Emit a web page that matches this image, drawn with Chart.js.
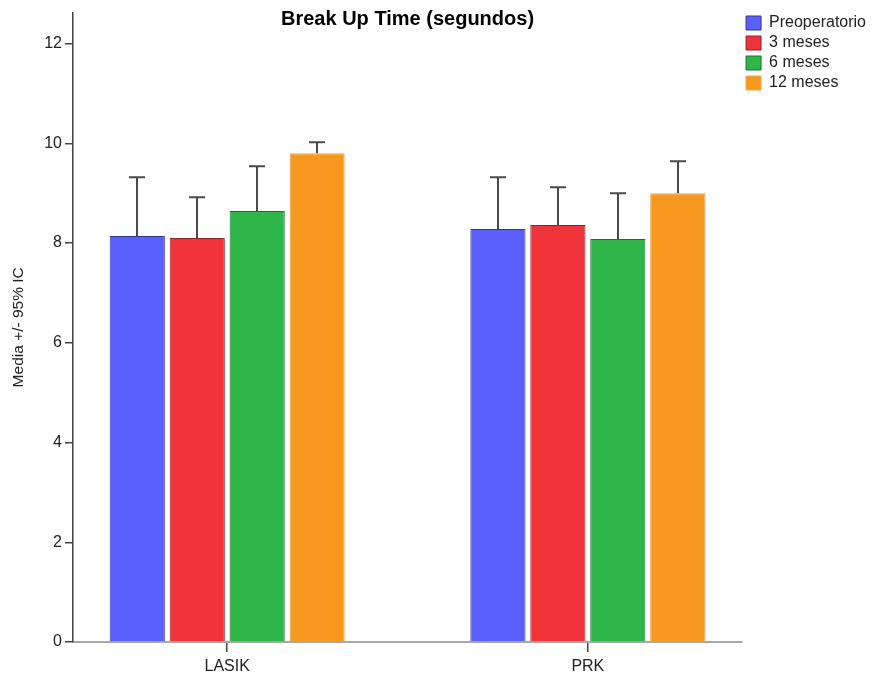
<!DOCTYPE html>
<html>
<head>
<meta charset="utf-8">
<script src="https://cdn.jsdelivr.net/npm/chart.js@4/dist/chart.umd.min.js"></script>
<style>
  html, body { margin: 0; padding: 0; background: #ffffff; }
  #wrap { width: 876px; height: 677px; }
</style>
</head>
<body>
<div id="wrap"><canvas id="c" width="876" height="677"></canvas></div>
<script>
// ---- data ----
const categories = ['LASIK', 'PRK'];
const seriesNames = ['Preoperatorio', '3 meses', '6 meses', '12 meses'];
const meanPre  = [8.14, 8.28];
const mean3m   = [8.10, 8.36];
const mean6m   = [8.64, 8.08];
const mean12m  = [9.80, 9.00];
const ciUpPre  = [9.32, 9.32];
const ciUp3m   = [8.92, 9.12];
const ciUp6m   = [9.54, 9.00];
const ciUp12m  = [10.02, 9.64];
const yTicks   = [0, 2, 4, 6, 8, 10, 12];

const means = [meanPre, mean3m, mean6m, mean12m];
const ciUpper = [ciUpPre, ciUp3m, ciUp6m, ciUp12m];
const fills = ['#5b5ffb', '#f0323b', '#2eb648', '#f8991f'];
const borders = ['#34368f', '#8f2529', '#1d6f30', '#f3a54a'];

Chart.defaults.font.family = "'Liberation Sans', Arial, sans-serif";
Chart.defaults.color = '#222';

const errorBars = {
  id: 'errorBars',
  afterDatasetsDraw(chart) {
    const ctx = chart.ctx;
    const yS = chart.scales.y;
    ctx.save();
    ctx.strokeStyle = '#4a4a4a';
    ctx.lineWidth = 2;
    chart.data.datasets.forEach((ds, i) => {
      const meta = chart.getDatasetMeta(i);
      meta.data.forEach((el, j) => {
        const top = yS.getPixelForValue(ciUpper[i][j]);
        const x = Math.round(el.x);
        ctx.beginPath();
        ctx.moveTo(x, el.y);
        ctx.lineTo(x, top);
        ctx.moveTo(x - 8, top);
        ctx.lineTo(x + 8, top);
        ctx.stroke();
      });
    });
    ctx.restore();
  }
};

new Chart(document.getElementById('c'), {
  type: 'bar',
  data: {
    datasets: means.map((arr, i) => ({
      label: seriesNames[i],
      data: arr.map((v, j) => ({ x: j, y: v })),
      backgroundColor: fills[i],
      borderColor: borders[i],
      borderWidth: 1,
      categoryPercentage: 0.665,
      barPercentage: 0.92
    }))
  },
  options: {
    responsive: false,
    animation: false,
    layout: { padding: 0 },
    plugins: {
      title: {
        display: true,
        text: 'Break Up Time (segundos)',
        fullSize: false,
        color: '#000',
        font: { size: 20, weight: 'bold', lineHeight: 1.2 },
        padding: { top: 7, bottom: -19 }
      },
      legend: {
        position: 'right',
        align: 'start',
        maxWidth: 137,
        title: { display: true, text: '', font: { size: 11, lineHeight: 1 }, padding: 0 },
        labels: {
          boxWidth: 15,
          boxHeight: 14,
          padding: 4,
          color: '#222',
          font: { size: 16 }
        }
      },
      tooltip: { enabled: false }
    },
    scales: {
      x: {
        type: 'linear',
        min: -0.4276,
        max: 1.4276,
        offset: false,
        afterFit(s) { s.height = 35; },
        grid: { offset: false, drawOnChartArea: false, drawTicks: true, tickLength: 10, color: '#444', lineWidth: 1.5 },
        border: { display: true, color: '#a8a8a8', width: 2 },
        ticks: {
          stepSize: 1,
          includeBounds: false,
          padding: 5,
          color: '#222',
          font: { size: 16 },
          callback: (v) => (Number.isInteger(v) && categories[v] !== undefined ? categories[v] : '')
        }
      },
      y: {
        min: 0,
        max: 12.62,
        afterFit(s) { s.width = 73; },
        afterBuildTicks(s) { s.ticks = yTicks.map(v => ({ value: v })); },
        grid: { drawOnChartArea: false, drawTicks: true, tickLength: 8, color: '#444', lineWidth: 1.5 },
        border: { display: true, color: '#444', width: 1.5 },
        ticks: { padding: 3, color: '#222', font: { size: 16 } },
        title: {
          display: true,
          text: 'Media +/- 95% IC',
          color: '#222',
          font: { size: 15.5 },
          padding: { top: 9, bottom: 0 }
        }
      }
    }
  },
  plugins: [errorBars]
});
</script>
</body>
</html>
